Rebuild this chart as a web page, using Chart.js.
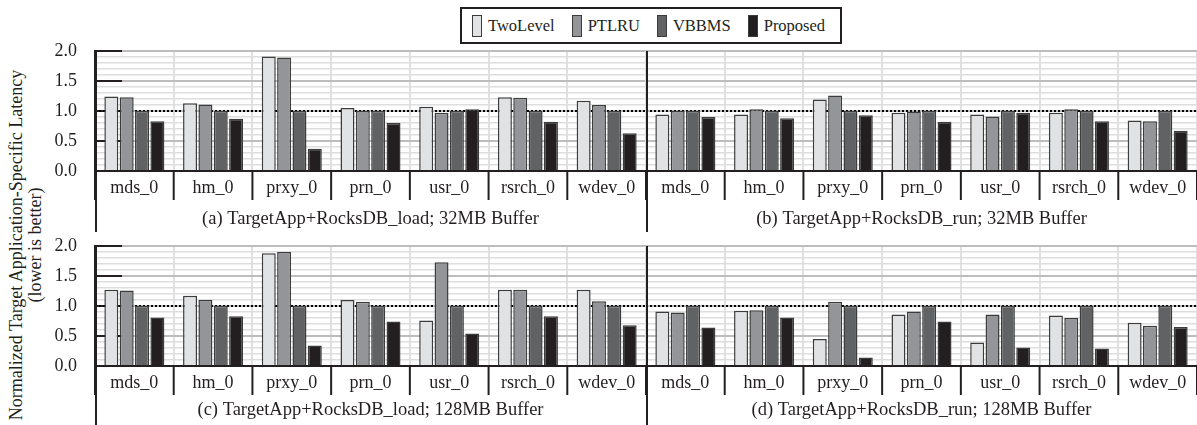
<!DOCTYPE html>
<html>
<head>
<meta charset="utf-8">
<script src="https://cdn.jsdelivr.net/npm/chart.js@4/dist/chart.umd.min.js"></script>
<style>
  body { margin: 0; background: #fff; width: 1197px; height: 425px; overflow: hidden; position: relative; font-family: "Liberation Serif", serif; color: #231f20; }
  canvas { position: absolute; }
  #legend { position: absolute; left: 460px; top: 7px; width: 368px; height: 33px; border: 2px solid #231f20; display: flex; align-items: center; padding-left: 10px; box-sizing: content-box; }
  .item { display: flex; align-items: center; margin-right: 17px; font-size: 16.5px; }
  .swatch { width: 8px; height: 20px; border: 1.5px solid #3c3c3c; margin-right: 6px; }
  #ytitle { position: absolute; left: -224px; top: 226px; width: 500px; height: 38px; transform: rotate(-90deg); text-align: center; font-size: 18px; line-height: 18.5px; white-space: nowrap; }
</style>
</head>
<body>
<div id="legend"></div>
<div id="ytitle">Normalized Target Application-Specific Latency<br>(lower is better)</div>
<canvas id="chartA" width="646" height="192" style="left:0;top:40px"></canvas>
<canvas id="chartB" width="557" height="192" style="left:640px;top:40px"></canvas>
<canvas id="chartC" width="646" height="190" style="left:0;top:235px"></canvas>
<canvas id="chartD" width="557" height="190" style="left:640px;top:235px"></canvas>
<script>
const categories = ["mds_0", "hm_0", "prxy_0", "prn_0", "usr_0", "rsrch_0", "wdev_0"];
const seriesNames = ["TwoLevel", "PTLRU", "VBBMS", "Proposed"];
const seriesColors = ["#e1e2e3", "#939598", "#616264", "#231f20"];
const yTickValues = [0, 0.5, 1, 1.5, 2];
const yTickLabels = ["0.0", "0.5", "1.0", "1.5", "2.0"];

// (a) RocksDB_load, 32MB
const load32TwoLevel = [1.24, 1.13, 1.91, 1.05, 1.07, 1.23, 1.17];
const load32PTLRU    = [1.23, 1.11, 1.89, 1.00, 0.97, 1.22, 1.10];
const load32VBBMS    = [1, 1, 1, 1, 1, 1, 1];
const load32Proposed = [0.83, 0.87, 0.37, 0.80, 1.03, 0.82, 0.63];

// (b) RocksDB_run, 32MB
const run32TwoLevel = [0.94, 0.94, 1.19, 0.97, 0.94, 0.97, 0.84];
const run32PTLRU    = [1.00, 1.03, 1.26, 0.99, 0.91, 1.03, 0.83];
const run32VBBMS    = [1, 1, 1, 1, 1, 1, 1];
const run32Proposed = [0.90, 0.88, 0.93, 0.82, 0.97, 0.83, 0.67];

// (c) RocksDB_load, 128MB
const load128TwoLevel = [1.27, 1.17, 1.88, 1.10, 0.76, 1.27, 1.27];
const load128PTLRU    = [1.26, 1.10, 1.90, 1.07, 1.73, 1.27, 1.08];
const load128VBBMS    = [1, 1, 1, 1, 1, 1, 1];
const load128Proposed = [0.81, 0.83, 0.34, 0.74, 0.54, 0.83, 0.68];

// (d) RocksDB_run, 128MB
const run128TwoLevel = [0.91, 0.92, 0.45, 0.86, 0.39, 0.84, 0.72];
const run128PTLRU    = [0.89, 0.93, 1.07, 0.91, 0.86, 0.80, 0.67];
const run128VBBMS    = [1, 1, 1, 1, 1, 1, 1];
const run128Proposed = [0.64, 0.81, 0.14, 0.74, 0.31, 0.29, 0.65];

const INK = "#231f20";
const FONT = "Liberation Serif";

function isMajor(v) {
    return Math.abs(v * 2 - Math.round(v * 2)) < 1e-6;
}

// legend
const legend = document.getElementById("legend");
seriesNames.forEach((name, i) => {
    legend.innerHTML += `<div class="item"><div class="swatch" style="background:${seriesColors[i]}"></div>${name}</div>`;
});

const panelDecor = {
    id: "panelDecor",
    beforeDatasetsDraw(chart, args, opts) {
        const { ctx, chartArea: a, scales: { y } } = chart;
        ctx.save();
        if (opts.insideTicks) {
            ctx.strokeStyle = INK;
            ctx.lineWidth = 2;
            yTickValues.forEach(v => {
                const py = y.getPixelForValue(v);
                ctx.beginPath();
                ctx.moveTo(a.left, py);
                ctx.lineTo(a.left + 27, py);
                ctx.stroke();
            });
        }
        // reference line at 1.0
        const p1 = y.getPixelForValue(1);
        ctx.strokeStyle = "#000";
        ctx.lineWidth = 2;
        ctx.setLineDash([2, 2]);
        ctx.beginPath();
        ctx.moveTo(a.left, p1);
        ctx.lineTo(a.right, p1);
        ctx.stroke();
        ctx.restore();
    },
    afterDraw(chart) {
        const { ctx, chartArea: a, scales: { x } } = chart;
        ctx.save();
        ctx.strokeStyle = INK;
        ctx.lineWidth = 2;
        for (let i = 0; i <= categories.length; i++) {
            const px = x.getPixelForValue(i - 0.5);
            ctx.beginPath();
            ctx.moveTo(px, a.bottom);
            ctx.lineTo(px, a.bottom + 29);
            ctx.stroke();
        }
        // panel frame on the left
        ctx.beginPath();
        ctx.moveTo(a.left + 1, a.top);
        ctx.lineTo(a.left + 1, chart.height);
        ctx.stroke();
        ctx.restore();
    }
};

function makePanel(id, series, subtitle, isLeft, axisHeight, titlePad) {

    const datasets = series.map((data, i) => ({
        label: seriesNames[i],
        data: data,
        backgroundColor: seriesColors[i],
        borderColor: "#3c3c3c",
        borderWidth: 1.5,
        categoryPercentage: 0.78,
        barPercentage: 0.91
    }));

    return new Chart(document.getElementById(id), {
        type: "bar",
        data: { labels: categories, datasets: datasets },
        plugins: [panelDecor],
        options: {
            responsive: false,
            animation: false,
            devicePixelRatio: 1,
            layout: { padding: { top: 11, left: isLeft ? 0 : 6, right: 0, bottom: 0 } },
            plugins: {
                legend: { display: false },
                tooltip: { enabled: false },
                panelDecor: { insideTicks: isLeft }
            },
            scales: {
                x: {
                    grid: { color: "#e0e0e0", lineWidth: 2, drawTicks: false },
                    border: { color: INK, width: 2 },
                    ticks: { color: INK, font: { family: FONT, size: 18 }, padding: 6 },
                    title: {
                        display: true,
                        text: subtitle,
                        color: INK,
                        font: { family: FONT, size: 18.5 },
                        padding: { top: 0, bottom: titlePad }
                    },
                    afterFit(scale) {
                        scale.height = axisHeight;
                        scale.paddingLeft = 0;
                        scale.paddingRight = 0;
                    }
                },
                y: {
                    min: 0,
                    max: 2,
                    grid: {
                        drawTicks: false,
                        color: c => isMajor(c.tick.value) ? "#bdbdbd" : "#dedede",
                        lineWidth: c => isMajor(c.tick.value) ? 2 : 1.5
                    },
                    border: { display: isLeft, color: INK, width: 2 },
                    ticks: {
                        display: isLeft,
                        stepSize: 0.1,
                        autoSkip: false,
                        color: INK,
                        padding: 18,
                        font: { family: FONT, size: 18 },
                        callback: v => {
                            const k = yTickValues.findIndex(t => Math.abs(t - v) < 1e-6);
                            return k >= 0 ? yTickLabels[k] : "";
                        }
                    },
                    afterFit(scale) {
                        scale.width = isLeft ? 95 : 0;
                        scale.paddingTop = 0;
                        scale.paddingBottom = 0;
                    }
                }
            }
        }
    });
}

makePanel("chartA", [load32TwoLevel, load32PTLRU, load32VBBMS, load32Proposed],
    "(a) TargetApp+RocksDB_load; 32MB Buffer", true, 61, 2);
makePanel("chartB", [run32TwoLevel, run32PTLRU, run32VBBMS, run32Proposed],
    "(b) TargetApp+RocksDB_run; 32MB Buffer", false, 61, 2);
makePanel("chartC", [load128TwoLevel, load128PTLRU, load128VBBMS, load128Proposed],
    "(c) TargetApp+RocksDB_load; 128MB Buffer", true, 59, 4);
makePanel("chartD", [run128TwoLevel, run128PTLRU, run128VBBMS, run128Proposed],
    "(d) TargetApp+RocksDB_run; 128MB Buffer", false, 59, 4);
</script>
</body>
</html>
